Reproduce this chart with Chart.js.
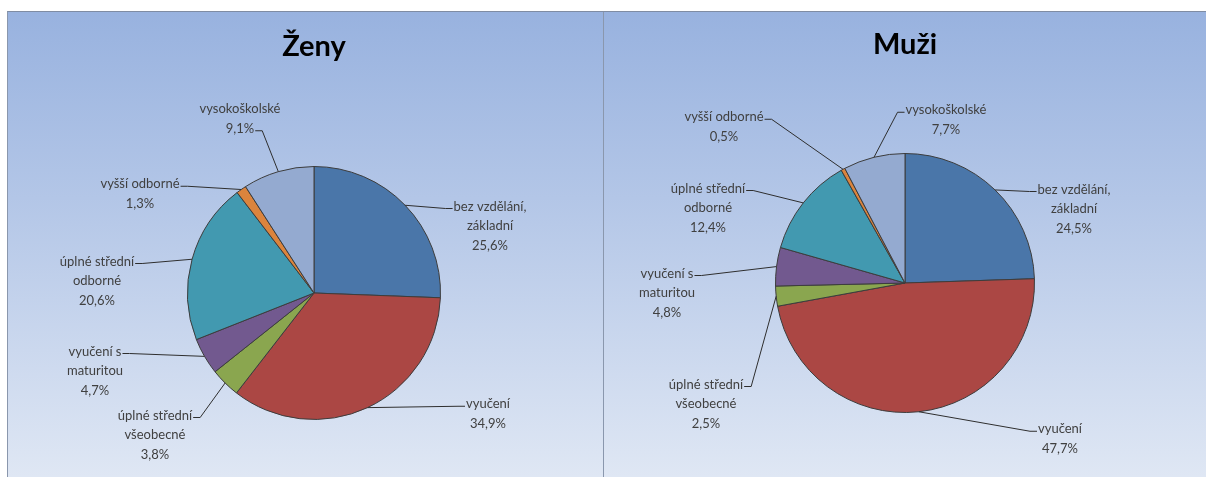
<!DOCTYPE html>
<html>
<head>
<meta charset="utf-8">
<script src="https://cdn.jsdelivr.net/npm/chart.js@4.4.0/dist/chart.umd.min.js"></script>
<style>
    body { margin: 0; background: #fff; width: 1206px; height: 477px; overflow: hidden; }
    #wrap {
        position: absolute; left: 7px; top: 11px; width: 1199px; height: 466px;
        border-top: 1px solid #7f8ca3; border-left: 1px solid #8a97ad;
    }
    .panel {
        position: absolute; top: 0; height: 465px;
        background: linear-gradient(to bottom, #98b2df 0%, #b3c6e7 40%, #dfe7f4 100%);
    }
    #left { left: 0; width: 595px; border-right: 1px solid #8a97ad; }
    #right { left: 596px; width: 603px; }
    canvas { display: block; }
</style>
</head>
<body>
<div id="wrap">
    <div class="panel" id="left"><canvas id="zenyChart" width="595" height="465"></canvas></div>
    <div class="panel" id="right"><canvas id="muziChart" width="603" height="465"></canvas></div>
</div>
<script>
// data
var categories = [
    ['bez vzdělání,', 'základní'],
    ['vyučení'],
    ['úplné střední', 'všeobecné'],
    ['vyučení s', 'maturitou'],
    ['úplné střední', 'odborné'],
    ['vyšší odborné'],
    ['vysokoškolské']
];
var zenyValues = [25.6, 34.9, 3.8, 4.7, 20.6, 1.3, 9.1];
var muziValues = [24.5, 47.7, 2.5, 4.8, 12.4, 0.5, 7.7];
var sliceColors = ['#4a76a9', '#ab4744', '#8aa64f', '#72598f', '#4299b0', '#db843d', '#94aad0'];

// label placement relative to pie centre: [dx, dy, line the leader attaches to]
var zenyLabelPos = [[176, -67, 0], [174, 121, 0], [-159, 142, 0], [-219, 78, 0], [-217, -12, 0], [-174, -99, 0], [-74, -174, 1]];
var muziLabelPos = [[169, -74, 0], [155, 156, 0], [-199, 121, 0], [-238, 10, 0], [-197, -75, 0], [-181, -156, 0], [41, -163, 0]];

var LABEL_FONT = '13px Lato, "Open Sans", sans-serif';
var LINE_H = 19.5;

function pct(v) {
    return v.toFixed(1).replace('.', ',') + '%';
}

// draws title + data labels with leader lines
var pieLabels = {
    id: 'pieLabels',
    afterDatasetsDraw: function (chart, args, opts) {
        var ctx = chart.ctx;
        var meta = chart.getDatasetMeta(0);
        var values = chart.data.datasets[0].data;
        ctx.save();

        ctx.fillStyle = '#000';
        ctx.font = 'bold 29px Lato, "Open Sans", sans-serif';
        ctx.textAlign = 'center';
        ctx.textBaseline = 'middle';
        ctx.fillText(opts.title, opts.titleX, opts.titleY);

        ctx.font = LABEL_FONT;
        meta.data.forEach(function (arc, i) {
            var p = arc.getProps(['x', 'y', 'startAngle', 'endAngle', 'outerRadius'], true);
            var mid = (p.startAngle + p.endAngle) / 2;
            var ex = p.x + Math.cos(mid) * p.outerRadius;
            var ey = p.y + Math.sin(mid) * p.outerRadius;

            var pos = opts.positions[i];
            var lines = chart.data.labels[i].concat([pct(values[i])]);
            var cx = p.x + pos[0];
            var cy = p.y + pos[1];
            var top = cy - (lines.length - 1) * LINE_H / 2;

            ctx.fillStyle = '#404040';
            lines.forEach(function (t, k) {
                ctx.fillText(t, cx, top + k * LINE_H);
            });

            // leader line
            var ly = top + pos[2] * LINE_H + 2;
            var w = ctx.measureText(lines[pos[2]]).width;
            var side = pos[0] > 0 ? -1 : 1;
            var ax = cx + side * (w / 2 + 1);
            ctx.strokeStyle = '#2e2e2e';
            ctx.lineWidth = 1;
            ctx.beginPath();
            ctx.moveTo(ax, ly);
            ctx.lineTo(ax + side * 7, ly);
            ctx.lineTo(ex, ey);
            ctx.stroke();
        });
        ctx.restore();
    }
};

function makePie(id, values, title, titleX, titleY, positions, padding) {
    var ctx = document.getElementById(id).getContext('2d');
    return new Chart(ctx, {
        type: 'pie',
        data: {
            labels: categories,
            datasets: [{
                data: values,
                backgroundColor: sliceColors,
                borderColor: '#3c3c3c',
                borderWidth: 1
            }]
        },
        options: {
            responsive: false,
            animation: false,
            events: [],
            layout: { padding: padding },
            plugins: {
                legend: { display: false },
                tooltip: { enabled: false },
                pieLabels: { title: title, titleX: titleX, titleY: titleY, positions: positions }
            }
        },
        plugins: [pieLabels]
    });
}

makePie('zenyChart', zenyValues, 'Ženy', 306, 35, zenyLabelPos,
    { left: 179, right: 162, top: 154, bottom: 57 });
makePie('muziChart', muziValues, 'Muži', 301, 33, muziLabelPos,
    { left: 171, right: 172, top: 141, bottom: 64 });
</script>
</body>
</html>
